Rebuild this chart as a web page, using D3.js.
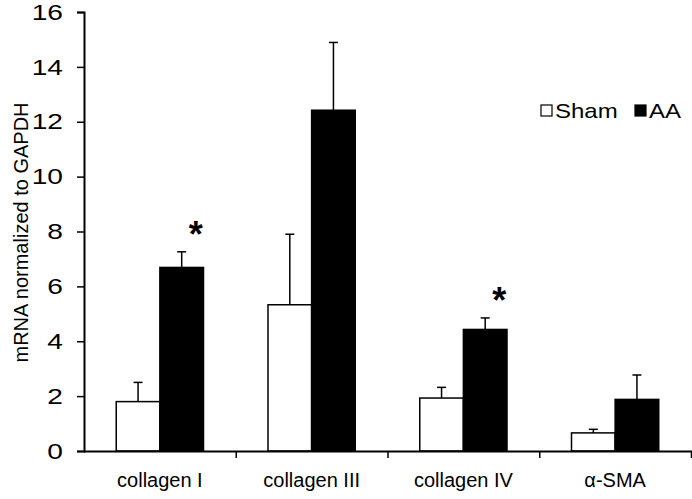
<!DOCTYPE html>
<html>
<head>
<meta charset="utf-8">
<script src="https://cdn.jsdelivr.net/npm/d3@7"></script>
<style>
  html, body { margin: 0; padding: 0; background: #fff; }
  svg { display: block; font-family: "Liberation Sans", Arial, sans-serif; }
</style>
</head>
<body>
<svg id="chart" width="692" height="499"></svg>
<script>
const categories = ["collagen I", "collagen III", "collagen IV", "α-SMA"];
const seriesNames = ["Sham", "AA"];
const shamValues = [1.80, 5.33, 1.93, 0.66];
const shamErrors = [0.70, 2.57, 0.39, 0.13];
const aaValues = [6.69, 12.42, 4.43, 1.88];
const aaErrors = [0.57, 2.47, 0.42, 0.89];
const aaSignificant = [true, false, true, false];
const yTicks = [0, 2, 4, 6, 8, 10, 12, 14, 16];
const yLabel = "mRNA normalized to GAPDH";

const svg = d3.select("#chart");
const plotLeft = 84, plotRight = 691, plotTop = 12, plotBottom = 451;

const y = d3.scaleLinear().domain([0, 16]).range([plotBottom, plotTop]);
const x = d3.scaleBand().domain(categories).range([plotLeft, plotRight]).padding(0);
const bw = x.bandwidth();
const pairW = bw * 0.575;
const xs = d3.scaleBand().domain(seriesNames)
  .range([(bw - pairW) / 2, (bw + pairW) / 2]).padding(0);

const rows = categories.map((c, i) => ([
  { cat: c, s: "Sham", v: shamValues[i], e: shamErrors[i], sig: false },
  { cat: c, s: "AA", v: aaValues[i], e: aaErrors[i], sig: aaSignificant[i] }
])).flat();
const fill = { Sham: "#ffffff", AA: "#000000" };

// error bars (upper only)
const eb = svg.append("g");
rows.forEach(d => {
  const cx = x(d.cat) + xs(d.s) + xs.bandwidth() / 2;
  eb.append("line").attr("x1", cx).attr("x2", cx)
    .attr("y1", y(d.v)).attr("y2", y(d.v + d.e))
    .attr("stroke", "#000").attr("stroke-width", 1.5);
  eb.append("line").attr("x1", cx - 4.5).attr("x2", cx + 4.5)
    .attr("y1", y(d.v + d.e)).attr("y2", y(d.v + d.e))
    .attr("stroke", "#000").attr("stroke-width", 1.5);
});

// bars
svg.append("g").selectAll("rect").data(rows).join("rect")
  .attr("x", d => x(d.cat) + xs(d.s))
  .attr("width", xs.bandwidth())
  .attr("y", d => y(d.v))
  .attr("height", d => y(0) - y(d.v))
  .attr("fill", d => fill[d.s])
  .attr("stroke", "#000").attr("stroke-width", 1.5);

// significance stars
svg.append("g").selectAll("text").data(rows.filter(d => d.sig)).join("text")
  .attr("x", d => x(d.cat) + xs(d.s) + xs.bandwidth() / 2 + 14)
  .attr("y", d => y(d.v + d.e) - 5)
  .attr("text-anchor", "middle")
  .attr("font-size", 36)
  .attr("font-weight", "bold")
  .text("*");

// y axis
const yAxis = svg.append("g").attr("transform", `translate(${plotLeft},0)`)
  .call(d3.axisLeft(y).tickValues(yTicks).tickSize(7).tickPadding(14));
yAxis.select(".domain").attr("stroke-width", 2);
yAxis.selectAll(".tick line").attr("stroke-width", 1.5);
yAxis.selectAll("text")
  .attr("x", 0)
  .attr("transform", "translate(-21,0) scale(1.25,1)")
  .attr("font-size", 22.5).attr("fill", "#000")
  .attr("font-family", "Liberation Sans, Arial, sans-serif");

// x axis: boundary ticks
const xb = d3.scaleLinear().domain([0, categories.length]).range([plotLeft, plotRight]);
const xAxis = svg.append("g").attr("transform", `translate(0,${plotBottom})`)
  .call(d3.axisBottom(xb).tickValues(d3.range(categories.length + 1)).tickSize(7).tickFormat(""));
xAxis.select(".domain").attr("stroke-width", 2).attr("d", `M${plotLeft},0.5H${plotRight + 1}`);
xAxis.selectAll(".tick line").attr("stroke-width", 1.5);
xAxis.selectAll(".tick").filter(d => d === 0).remove();

// x labels
const xl = svg.append("g").attr("transform", `translate(0,${plotBottom})`)
  .call(d3.axisBottom(x).tickSize(0).tickPadding(22));
xl.select(".domain").remove();
xl.selectAll("text").attr("font-size", 20).attr("fill", "#000")
  .attr("font-family", "Liberation Sans, Arial, sans-serif");

// y label
svg.append("text")
  .attr("transform", `translate(28,${(plotTop + plotBottom) / 2 + 1}) rotate(-90)`)
  .attr("text-anchor", "middle")
  .attr("font-size", 20)
  .text(yLabel);

// legend
const lg = svg.append("g");
const legendX = [541, 635];
seriesNames.forEach((s, i) => {
  lg.append("rect").attr("x", legendX[i]).attr("y", 105)
    .attr("width", 11).attr("height", 11)
    .attr("fill", fill[s]).attr("stroke", "#000").attr("stroke-width", 1.2);
  lg.append("text")
    .attr("transform", `translate(${legendX[i] + 14},117.5) scale(1.2,1)`)
    .attr("font-size", 20).text(s);
});
</script>
</body>
</html>
